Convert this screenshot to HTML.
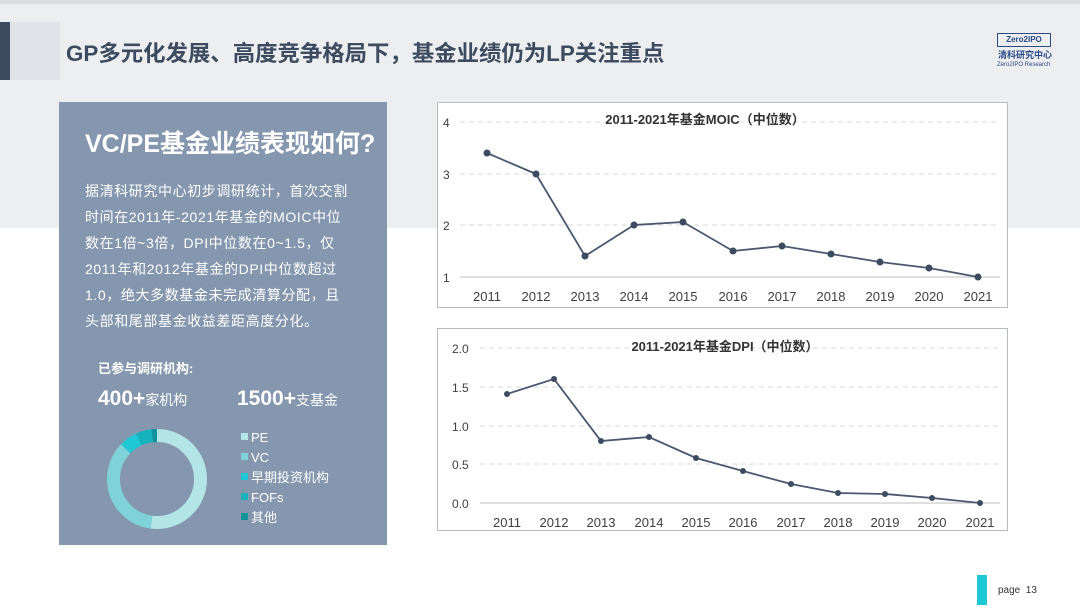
<!DOCTYPE html><html><head><meta charset="utf-8"><style>
body{margin:0;width:1080px;height:611px;overflow:hidden;font-family:"Liberation Sans","Noto Sans CJK SC",sans-serif;background:#fff;position:relative}
.a{position:absolute}
</style></head><body>
<div class="a" style="left:0;top:0;width:1080px;height:228px;background:#edeef0"></div>
<div class="a" style="left:0;top:0;width:1080px;height:4px;background:#dcdde0"></div>
<div class="a" style="left:0;top:22px;width:10px;height:58px;background:#3d4b60"></div>
<div class="a" style="left:10px;top:22px;width:50px;height:58px;background:#e0e3e8"></div>
<div class="a" style="left:66px;top:36px;font-size:22.4px;font-weight:bold;color:#3d4b60">GP多元化发展、高度竞争格局下，基金业绩仍为LP关注重点</div>
<div class="a" style="left:997px;top:33px;width:52px;height:12px;border:1px solid #2a4a8a;font-size:8px;color:#2a4a8a;font-weight:bold;line-height:12px;text-align:center">Zero2IPO</div>
<div class="a" style="left:998px;top:50px;font-size:9px;line-height:10px;color:#2a4a8a;font-weight:bold">清科研究中心</div>
<div class="a" style="left:997px;top:62px;font-size:6px;line-height:7px;color:#2a4a8a">Zero2IPO Research</div>

<div class="a" style="left:59px;top:102px;width:328px;height:443px;background:#8497ae"></div>
<div class="a" style="left:85px;top:124px;font-size:25px;font-weight:bold;color:#fff">VC/PE基金业绩表现如何?</div>
<div class="a" style="left:85px;top:178px;width:266px;font-size:14px;letter-spacing:0.6px;line-height:26px;color:#fff">据清科研究中心初步调研统计，首次交割时间在2011年-2021年基金的MOIC中位数在1倍~3倍，DPI中位数在0~1.5，仅2011年和2012年基金的DPI中位数超过1.0，绝大多数基金未完成清算分配，且头部和尾部基金收益差距高度分化。</div>
<div class="a" style="left:98px;top:358px;font-size:13px;font-weight:bold;color:#fff">已参与调研机构:</div>
<div class="a" style="left:98px;top:387px;color:#fff"><span style="font-size:21px;font-weight:bold">400+</span><span style="font-size:14px">家机构</span></div>
<div class="a" style="left:237px;top:387px;color:#fff"><span style="font-size:21px;font-weight:bold">1500+</span><span style="font-size:14px">支基金</span></div>
<svg class="a" style="left:0;top:0" width="400" height="611">
<g fill="none" stroke-width="13" transform="rotate(-90 157 479)">
<circle cx="157" cy="479" r="43.5" stroke="#b3e5e6" stroke-dasharray="142 400"/>
<circle cx="157" cy="479" r="43.5" stroke="#7fd3d8" stroke-dasharray="0 142 96 400"/>
<circle cx="157" cy="479" r="43.5" stroke="#1ec8d4" stroke-dasharray="0 238 16 400"/>
<circle cx="157" cy="479" r="43.5" stroke="#17b3bd" stroke-dasharray="0 254 14 400"/>
<circle cx="157" cy="479" r="43.5" stroke="#12939c" stroke-dasharray="0 268 5 400"/>
</g>
<g font-size="13" fill="#fff">
<rect x="241" y="433" width="7" height="7" fill="#b3e5e6"/><text x="251" y="442">PE</text>
<rect x="241" y="453" width="7" height="7" fill="#7fd3d8"/><text x="251" y="462">VC</text>
<rect x="241" y="473" width="7" height="7" fill="#1ec8d4"/><text x="251" y="482">早期投资机构</text>
<rect x="241" y="493" width="7" height="7" fill="#17b3bd"/><text x="251" y="502">FOFs</text>
<rect x="241" y="513" width="7" height="7" fill="#12939c"/><text x="251" y="522">其他</text>
</g></svg>

<svg class="a" style="left:0;top:0" width="1080" height="611" font-family="Liberation Sans, Noto Sans CJK SC, sans-serif">
<rect x="437.5" y="102.5" width="570" height="205" fill="#fff" stroke="#b8bcc2"/>
<g stroke="#d9d9d9" stroke-dasharray="5 4"><line x1="460" x2="1000" y1="122" y2="122"/><line x1="460" x2="1000" y1="174" y2="174"/><line x1="460" x2="1000" y1="225" y2="225"/></g>
<line x1="460" x2="1000" y1="277" y2="277" stroke="#bfbfbf"/>
<g font-size="12" fill="#404040"><text x="443" y="127">4</text><text x="443" y="179">3</text><text x="443" y="230">2</text><text x="443" y="282">1</text></g>
<text x="705" y="124" font-size="13" font-weight="bold" fill="#333" text-anchor="middle">2011-2021年基金MOIC（中位数）</text>
<polyline fill="none" stroke="#4a5870" stroke-width="1.8" points="487,153 536,174 585,256 634,225 683,222 733,251 782,246 831,254 880,262 929,268 978,277"/>
<g fill="#3d4b60"><circle cx="487" cy="153" r="3.5"/><circle cx="536" cy="174" r="3.5"/><circle cx="585" cy="256" r="3.5"/><circle cx="634" cy="225" r="3.5"/><circle cx="683" cy="222" r="3.5"/><circle cx="733" cy="251" r="3.5"/><circle cx="782" cy="246" r="3.5"/><circle cx="831" cy="254" r="3.5"/><circle cx="880" cy="262" r="3.5"/><circle cx="929" cy="268" r="3.5"/><circle cx="978" cy="277" r="3.5"/></g>
<g font-size="13" fill="#404040" text-anchor="middle"><text x="487" y="301">2011</text><text x="536" y="301">2012</text><text x="585" y="301">2013</text><text x="634" y="301">2014</text><text x="683" y="301">2015</text><text x="733" y="301">2016</text><text x="782" y="301">2017</text><text x="831" y="301">2018</text><text x="880" y="301">2019</text><text x="929" y="301">2020</text><text x="978" y="301">2021</text></g>

<rect x="437.5" y="328.5" width="570" height="202" fill="#fff" stroke="#b8bcc2"/>
<g stroke="#d9d9d9" stroke-dasharray="5 4"><line x1="480" x2="1000" y1="348" y2="348"/><line x1="480" x2="1000" y1="387" y2="387"/><line x1="480" x2="1000" y1="426" y2="426"/><line x1="480" x2="1000" y1="464" y2="464"/></g>
<line x1="480" x2="1000" y1="503" y2="503" stroke="#bfbfbf"/>
<g font-size="12" fill="#404040"><text x="452" y="353">2.0</text><text x="452" y="392">1.5</text><text x="452" y="431">1.0</text><text x="452" y="469">0.5</text><text x="452" y="508">0.0</text></g>
<text x="725" y="351" font-size="13" font-weight="bold" fill="#333" text-anchor="middle">2011-2021年基金DPI（中位数）</text>
<polyline fill="none" stroke="#4a5870" stroke-width="1.8" points="507,394 554,379 601,441 649,437 696,458 743,471 791,484 838,493 885,494 932,498 980,503"/>
<g fill="#3d4b60"><circle cx="507" cy="394" r="3"/><circle cx="554" cy="379" r="3"/><circle cx="601" cy="441" r="3"/><circle cx="649" cy="437" r="3"/><circle cx="696" cy="458" r="3"/><circle cx="743" cy="471" r="3"/><circle cx="791" cy="484" r="3"/><circle cx="838" cy="493" r="3"/><circle cx="885" cy="494" r="3"/><circle cx="932" cy="498" r="3"/><circle cx="980" cy="503" r="3"/></g>
<g font-size="13" fill="#404040" text-anchor="middle"><text x="507" y="527">2011</text><text x="554" y="527">2012</text><text x="601" y="527">2013</text><text x="649" y="527">2014</text><text x="696" y="527">2015</text><text x="743" y="527">2016</text><text x="791" y="527">2017</text><text x="838" y="527">2018</text><text x="885" y="527">2019</text><text x="932" y="527">2020</text><text x="980" y="527">2021</text></g>
</svg>
<div class="a" style="left:977px;top:575px;width:10px;height:30px;background:#1ec8d4"></div>
<div class="a" style="left:998px;top:585px;font-size:10px;color:#333">page&nbsp;&nbsp;13</div>
</body></html>
